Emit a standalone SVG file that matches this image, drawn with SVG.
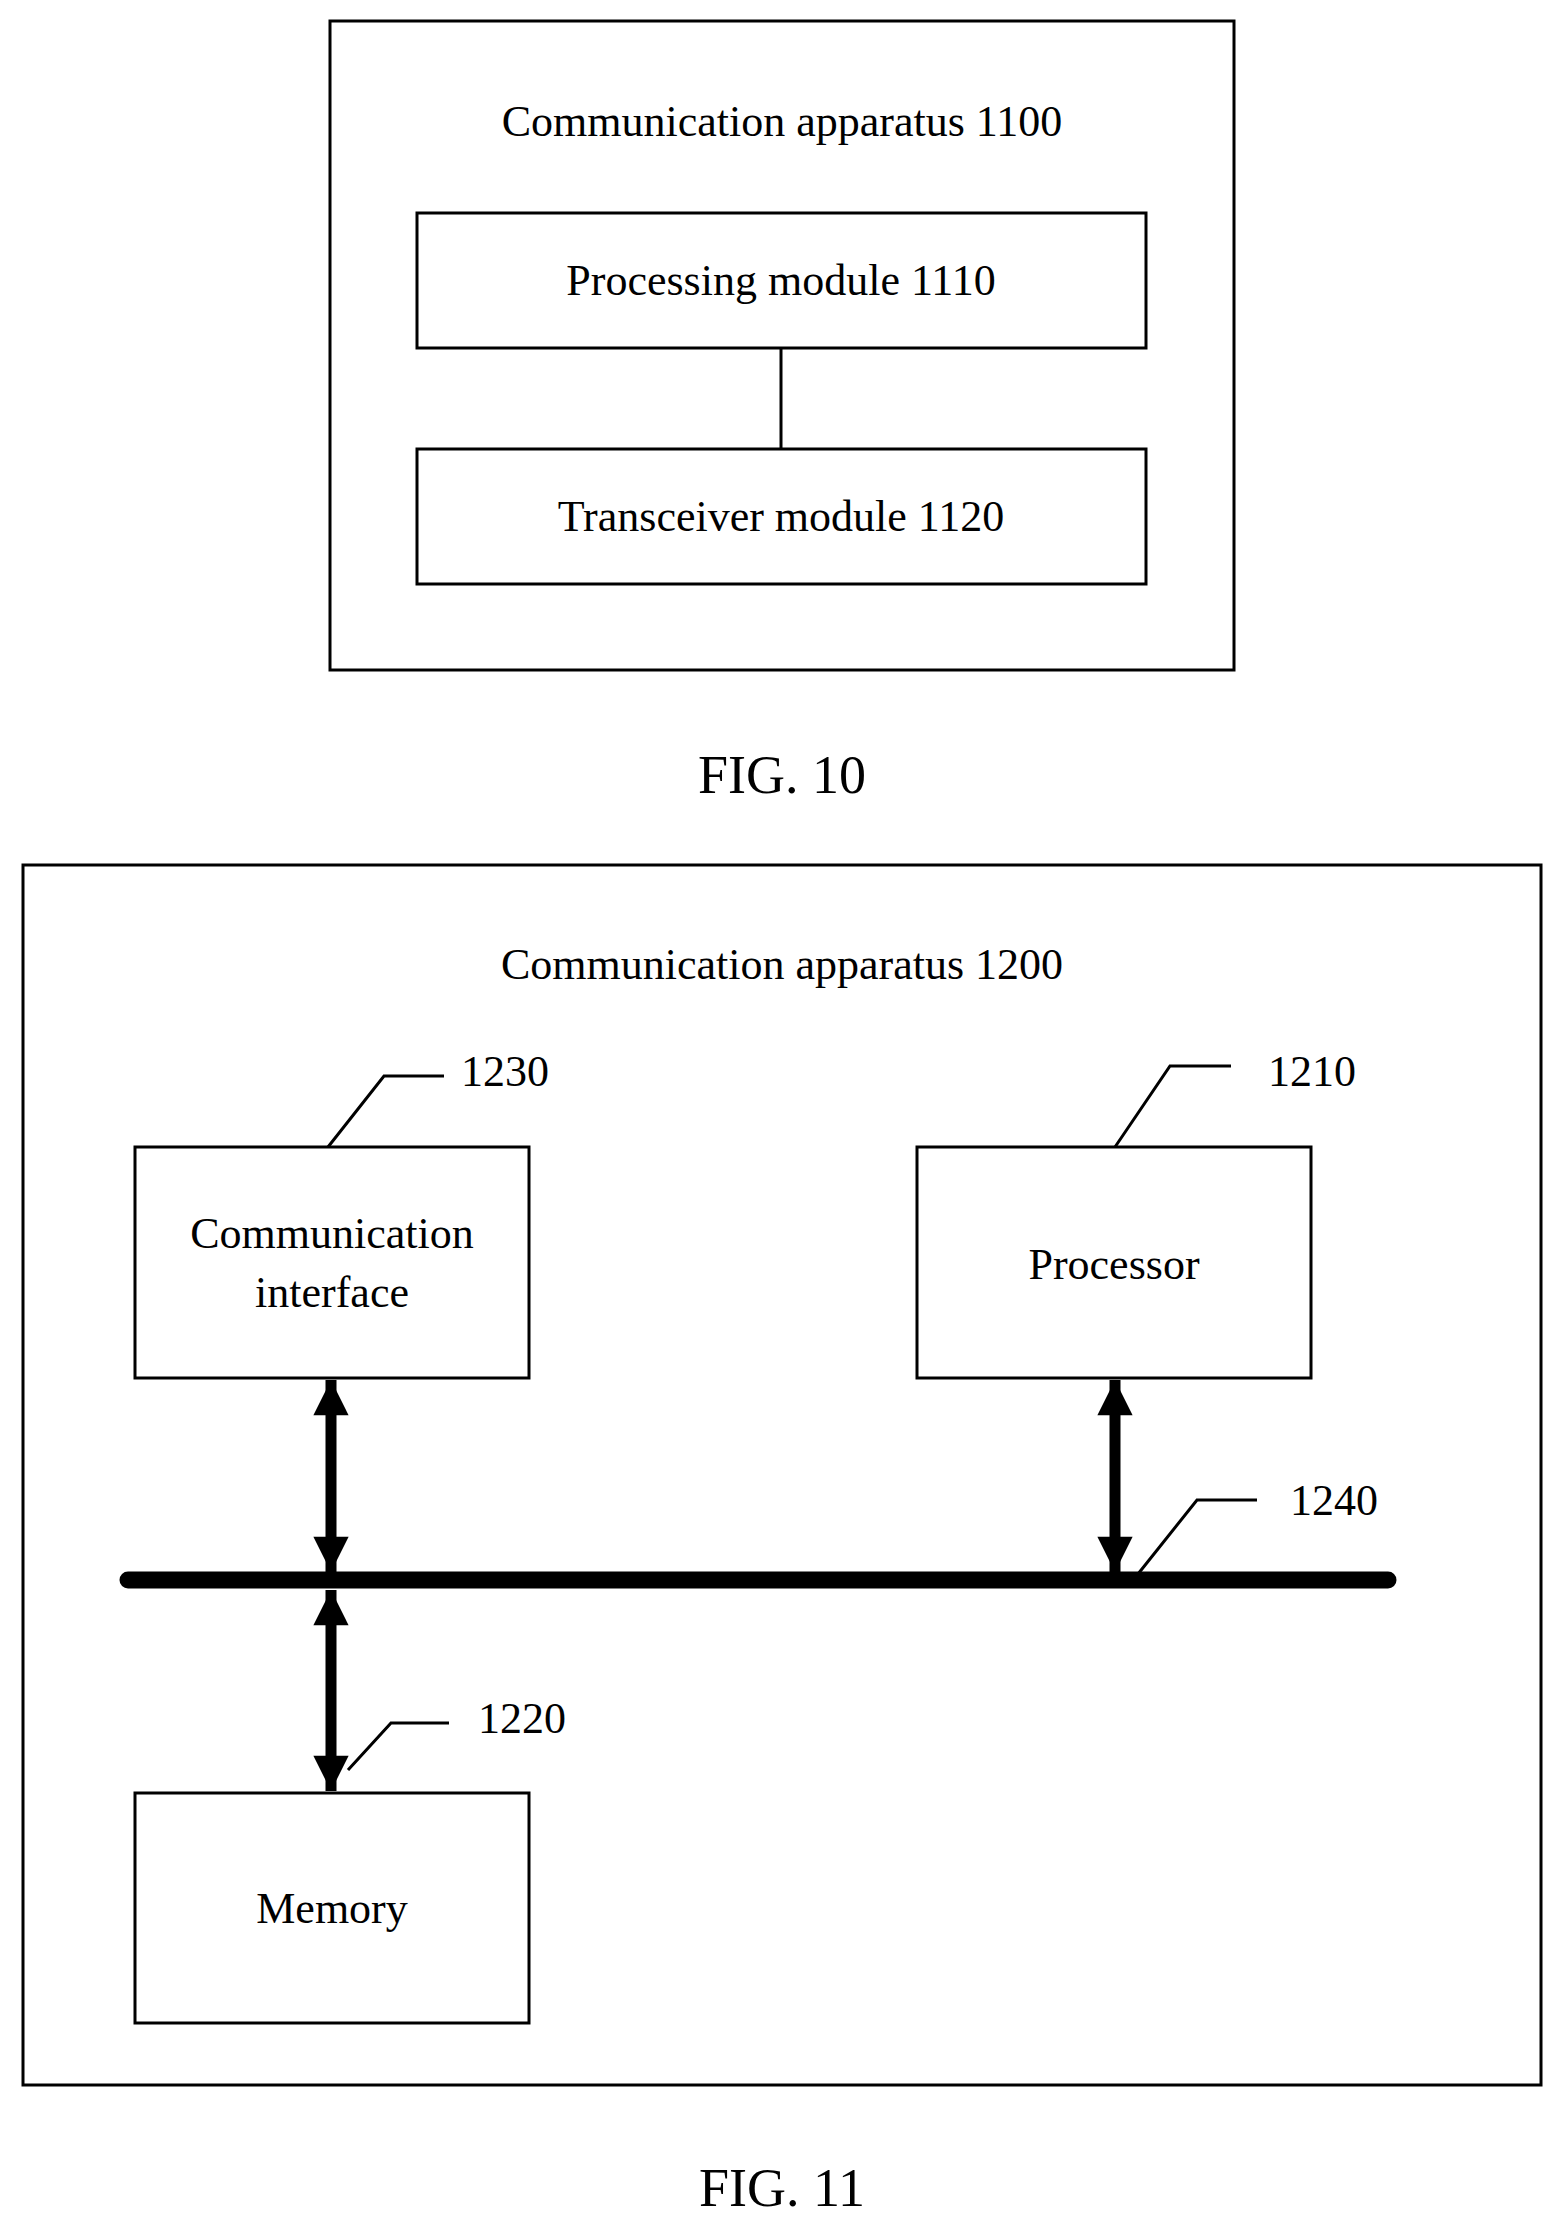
<svg xmlns="http://www.w3.org/2000/svg" width="1564" height="2229" viewBox="0 0 1564 2229">
<style>
rect{fill:#fff;stroke:#000;stroke-width:3}
text{font-family:"Liberation Serif",serif;font-size:44px;fill:#000;text-anchor:middle;dominant-baseline:central}
.fig{font-size:54px}
.ln{stroke:#000;stroke-width:3;fill:none}
.sh{stroke:#000;stroke-width:11;fill:none}
</style>
<defs>
<marker id="ah" viewBox="0 0 10 10" refX="10" refY="5" markerWidth="3.6" markerHeight="3.2" orient="auto-start-reverse" markerUnits="strokeWidth"><path d="M0,0L10,5L0,10z" fill="#000"/></marker>
</defs>
<rect width="1564" height="2229" style="stroke:none"/>
<g id="apparatus1100"><rect x="330" y="21" width="904" height="649"/><text x="782" y="121">Communication apparatus 1100</text></g>
<g id="processing"><rect x="417" y="213" width="729" height="135"/><text x="781" y="280">Processing module 1110</text></g>
<g id="transceiver"><rect x="417" y="449" width="729" height="135"/><text x="781" y="516">Transceiver module 1120</text></g>
<text class="fig" x="782" y="775">FIG. 10</text>
<g id="apparatus1200"><rect x="23" y="865" width="1518" height="1220"/><text x="782" y="964">Communication apparatus 1200</text></g>
<g id="comm"><rect x="135" y="1147" width="394" height="231"/><text x="332" y="1233">Communication</text><text x="332" y="1292">interface</text></g>
<g id="processor"><rect x="917" y="1147" width="394" height="231"/><text x="1114" y="1264">Processor</text></g>
<g id="memory"><rect x="135" y="1793" width="394" height="230"/><text x="332" y="1908">Memory</text></g>
<g id="connectors">
<line class="ln" x1="781" y1="348" x2="781" y2="449"/>
<line x1="128" y1="1580" x2="1388" y2="1580" stroke="#000" stroke-width="17" stroke-linecap="round"/>
<line class="sh" x1="331" y1="1380" x2="331" y2="1572" marker-start="url(#ah)" marker-end="url(#ah)"/>
<line class="sh" x1="1115" y1="1380" x2="1115" y2="1572" marker-start="url(#ah)" marker-end="url(#ah)"/>
<line class="sh" x1="331" y1="1590" x2="331" y2="1791" marker-start="url(#ah)" marker-end="url(#ah)"/>
<polyline class="ln" points="328,1147 384,1076 444,1076"/>
<polyline class="ln" points="1115,1147 1170,1066 1231,1066"/>
<polyline class="ln" points="1138,1574 1197,1500 1257,1500"/>
<polyline class="ln" points="348,1770 391,1723 449,1723"/>
</g>
<text x="505" y="1071">1230</text>
<text x="1312" y="1071">1210</text>
<text x="1334" y="1500">1240</text>
<text x="522" y="1718">1220</text>
<text class="fig" x="782" y="2188">FIG. 11</text>
</svg>
